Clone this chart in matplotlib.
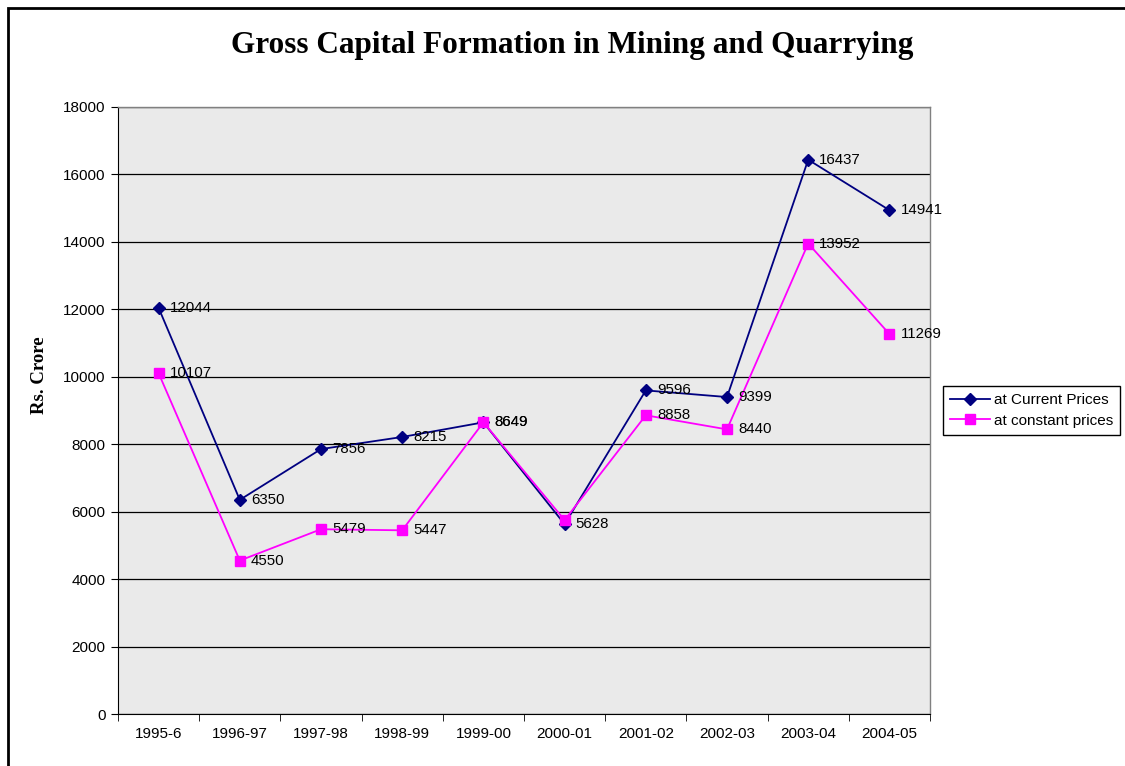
import matplotlib
matplotlib.use('Agg')
import matplotlib.pyplot as plt
from matplotlib.patches import Rectangle


years    = ['1995-6', '1996-97', '1997-98', '1998-99', '1999-00',
            '2000-01', '2001-02', '2002-03', '2003-04', '2004-05']
current  = [12044, 6350, 7856, 8215, 8649, 5628, 9596, 9399, 16437, 14941]
constant = [10107, 4550, 5479, 5447, 8649, 5750, 8858, 8440, 13952, 11269]
# labels shown on the chart (the constant-price label for 2000-01 is hidden)
current_labels  = [str(v) for v in current]
constant_labels = ['10107', '4550', '5479', '5447', '8649', '', '8858', '8440', '13952', '11269']

NAVY    = '#000080'
MAGENTA = '#FF00FF'
PLOTBG  = '#EAEAEA'

plt.rcParams['font.family'] = ['Liberation Sans', 'DejaVu Sans']

fig = plt.figure(figsize=(11.25, 7.66), dpi=100)
ax = fig.add_axes([118 / 1125, 1 - 714 / 766, (930 - 118) / 1125, (714 - 107) / 766])
ax.set_facecolor(PLOTBG)

x = list(range(len(years)))
ax.plot(x, current, color=NAVY, lw=1.3, marker='D', ms=6, mfc=NAVY, mec=NAVY,
        label='at Current Prices', zorder=3)
ax.plot(x, constant, color=MAGENTA, lw=1.3, marker='s', ms=7, mfc=MAGENTA, mec=MAGENTA,
        label='at constant prices', zorder=4)

for xi, v, t in zip(x, current, current_labels):
    if t:
        ax.annotate(t, (xi, v), xytext=(8, 0), textcoords='offset points',
                    ha='left', va='center', fontsize=10.8, zorder=5)
for xi, v, t in zip(x, constant, constant_labels):
    if t:
        ax.annotate(t, (xi, v), xytext=(8, 0), textcoords='offset points',
                    ha='left', va='center', fontsize=10.8, zorder=5)

ax.set_xlim(-0.5, len(years) - 0.5)
ax.set_ylim(0, 18000)
ax.set_yticks(range(0, 18001, 2000))
ax.set_xticks(x)
ax.set_xticklabels(years)
ax.set_xticks([i - 0.5 for i in range(len(years) + 1)], minor=True)
ax.tick_params(axis='x', which='major', length=0, labelsize=11, pad=9)
ax.tick_params(axis='x', which='minor', length=5, direction='out', color='black')
ax.tick_params(axis='y', length=5, direction='out', labelsize=11, pad=4)
ax.yaxis.grid(True, color='black', lw=0.9)
ax.set_axisbelow(True)

for side in ['top', 'right']:
    ax.spines[side].set_color('#808080')
    ax.spines[side].set_linewidth(1.0)
ax.spines['left'].set_color('black')
ax.spines['bottom'].set_color('black')

fig.text(40 / 1125, 1 - 375 / 766, 'Rs. Crore', rotation=90, ha='center', va='center',
         family=['Liberation Serif'], fontweight='bold', fontsize=13.5)

fig.text(572 / 1125, 1 - 45 / 766, 'Gross Capital Formation in Mining and Quarrying',
         ha='center', va='center', family=['Liberation Serif'], fontweight='bold',
         fontsize=22.5)

leg = fig.legend(loc='upper left', bbox_to_anchor=(943 / 1125, 1 - 386 / 766),
                 borderaxespad=0, fancybox=False, framealpha=1, edgecolor='black',
                 fontsize=11, handlelength=2.6, handletextpad=0.3,
                 labelspacing=0.45, borderpad=0.45)
leg.get_frame().set_linewidth(1.0)

fig.patches.append(Rectangle((8 / 1125, -0.05), 1.1, 1 - 8 / 766 + 0.05,
                             transform=fig.transFigure, fill=False,
                             edgecolor='black', lw=2, zorder=0))

fig.savefig('out.png', dpi=100)
